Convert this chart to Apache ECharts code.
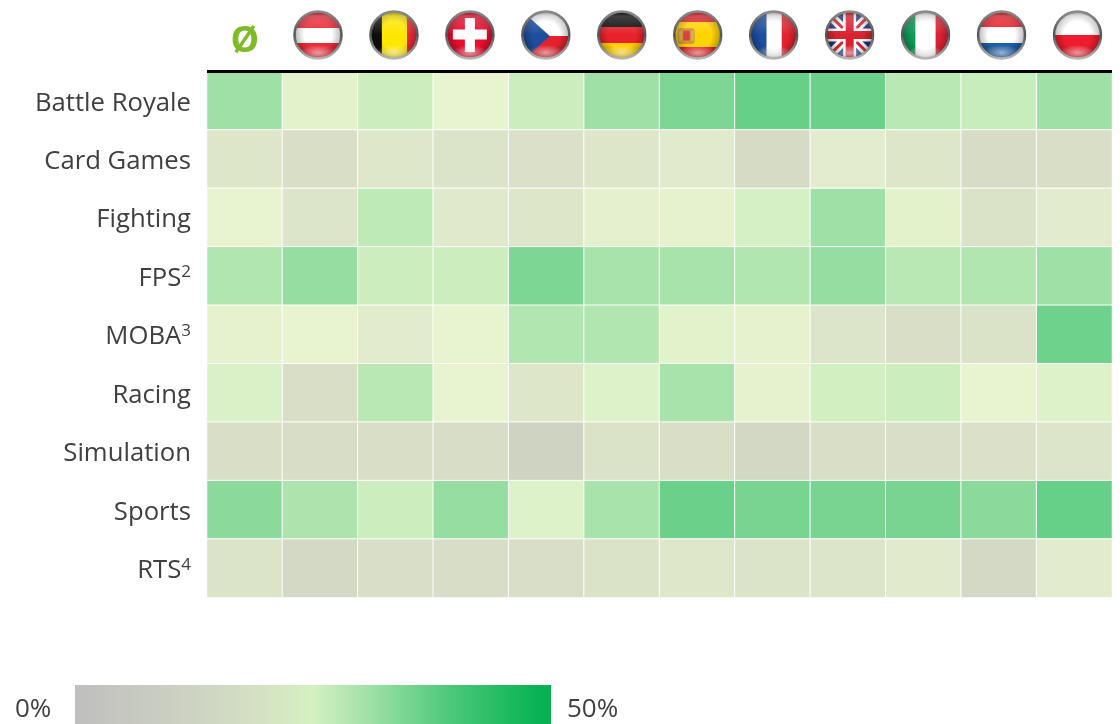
<!DOCTYPE html>
<html>
<head>
<meta charset="utf-8">
<style>html,body{margin:0;padding:0;background:#fff}#c{width:1120px;height:724px}</style>
<script src="https://cdn.jsdelivr.net/npm/echarts@6/dist/echarts.min.js"></script>
</head>
<body>
<div id="c"></div>
<script>
const columns = ['Ø','Austria','Belgium','Switzerland','Czechia','Germany','Spain','France','UK','Italy','Netherlands','Poland'];
const genres = ['Battle Royale','Card Games','Fighting','FPS','MOBA','Racing','Simulation','Sports','RTS'];
const superscripts = {FPS:'2', MOBA:'3', RTS:'4'};
const legendLabels = ['0%','50%'];

const battleRoyale = [30,21,25,20,25,30,33.5,36,35.5,27,25.5,30];
const cardGames    = [15,12,15.5,13.5,12.5,15,16.5,10,17.5,15,10.5,12];
const fighting     = [20,14,26.5,16,15,18.5,19,23.5,30,21,13,17];
const fps          = [28,31,25,25,33.5,29,29,28,31,27,28,30];
const moba         = [19,20,17,20,28,28,21,19,14,12,13,35];
const racing       = [22.5,12,27,20,15,22,29,19,24,25,20,22];
const simulation   = [12,11,12,11,6.5,13,12,8.5,12,11.5,12.5,14];
const sports       = [32,28.5,25,31,22,29,35.5,34,34,34,32,36];
const rts          = [13.5,9,11.5,11,11.5,13,15.5,13.5,14,16.5,9,17];
const rows = [battleRoyale,cardGames,fighting,fps,moba,racing,simulation,sports,rts];

const cellColors = ['#BFBFBF','#CBD0C1','#D5DBC5','#DEE6CA','#E8F4CF','#CCEEBF','#9FE0A6','#6ED28C','#4CC877','#26BC63','#00B050'];
const legendColors = ['#BFBFBF','#C5C7C0','#CBCFC1','#D0D8C3','#D5E3C2','#D5F0C1','#A8E3AC','#76D591','#47C777','#22BB62','#00B050'];

const heat = [];
rows.forEach((r,y)=>r.forEach((v,x)=>heat.push([x,y,v])));

function flagBody(name){
  const s = {
    Austria:'<rect width="100" height="36" fill="#ED2939"/><rect y="36" width="100" height="30" fill="#fff"/><rect y="66" width="100" height="34" fill="#ED2939"/>',
    Belgium:'<rect width="26" height="100" fill="#111"/><rect x="26" width="50" height="100" fill="#FFE600"/><rect x="76" width="24" height="100" fill="#EE2B36"/>',
    Switzerland:'<rect width="100" height="100" fill="#E8112D"/><rect x="40" y="16" width="20" height="68" fill="#fff"/><rect x="16" y="39" width="68" height="20" fill="#fff"/>',
    Czechia:'<rect width="100" height="52" fill="#fff"/><rect y="52" width="100" height="48" fill="#E3202F"/><path d="M0 0 L58 52 L0 104Z" fill="#1F4E9E"/>',
    Germany:'<rect width="100" height="34" fill="#111"/><rect y="34" width="100" height="32" fill="#E8202A"/><rect y="66" width="100" height="34" fill="#FFCE00"/>',
    Spain:'<rect width="100" height="100" fill="#E3202A"/><rect y="24" width="100" height="50" fill="#FFD400"/><rect x="10" y="36" width="34" height="32" rx="7" fill="#D9952F"/><rect x="21" y="41" width="13" height="20" fill="#D8404A"/><rect x="12" y="42" width="6" height="20" fill="#C9B45A"/><rect x="37" y="42" width="6" height="20" fill="#C9B45A"/>',
    France:'<rect width="36" height="100" fill="#1F4EA0"/><rect x="36" width="30" height="100" fill="#fff"/><rect x="66" width="34" height="100" fill="#E3202F"/>',
    UK:'<rect width="100" height="100" fill="#24337E"/><path d="M0 0L100 100M100 0L0 100" stroke="#fff" stroke-width="18"/><path d="M0 0L100 100M100 0L0 100" stroke="#D8202F" stroke-width="6"/><path d="M50 0V100M0 50H100" stroke="#fff" stroke-width="26"/><path d="M50 0V100M0 50H100" stroke="#D8202F" stroke-width="16"/>',
    Italy:'<rect width="30" height="100" fill="#0A9A55"/><rect x="30" width="40" height="100" fill="#fff"/><rect x="70" width="30" height="100" fill="#DC2433"/>',
    Netherlands:'<rect width="100" height="34" fill="#E8212F"/><rect y="34" width="100" height="32" fill="#fff"/><rect y="66" width="100" height="34" fill="#1D5FA6"/>',
    Poland:'<rect width="100" height="50" fill="#fff"/><rect y="50" width="100" height="50" fill="#EE1C2E"/>'
  };
  return s[name];
}
function flagUri(name){
  const svg = '<svg xmlns="http://www.w3.org/2000/svg" width="100" height="100" viewBox="0 0 100 100">'+
  '<defs><clipPath id="c"><circle cx="50" cy="50" r="46"/></clipPath>'+
  '<filter id="b" x="-5%" y="-5%" width="110%" height="110%"><feGaussianBlur stdDeviation="0.9"/></filter>'+
  '<radialGradient id="s" cx="50%" cy="50%" r="50%"><stop offset="55%" stop-color="#000" stop-opacity="0"/><stop offset="85%" stop-color="#000" stop-opacity=".22"/><stop offset="100%" stop-color="#000" stop-opacity=".6"/></radialGradient>'+
  '<radialGradient id="t" cx="50%" cy="50%" r="50%"><stop offset="0" stop-color="#fff" stop-opacity=".55"/><stop offset="100%" stop-color="#fff" stop-opacity="0"/></radialGradient>'+
  '<linearGradient id="g" x1="0" y1="0" x2="0" y2="1"><stop offset="0" stop-color="#000" stop-opacity=".12"/><stop offset=".12" stop-color="#fff" stop-opacity=".22"/><stop offset=".32" stop-color="#fff" stop-opacity=".12"/><stop offset=".5" stop-color="#fff" stop-opacity="0"/></linearGradient>'+
  '<linearGradient id="r" x1="0" y1="0" x2="0" y2="1"><stop offset="0" stop-color="#8a8a8a"/><stop offset=".5" stop-color="#555"/><stop offset="1" stop-color="#b5b5b5"/></linearGradient></defs>'+
  '<g clip-path="url(#c)"><g filter="url(#b)">'+flagBody(name)+'</g><rect width="100" height="100" fill="url(#s)"/><rect width="100" height="100" fill="url(#g)"/><ellipse cx="50" cy="86" rx="38" ry="16" fill="url(#t)"/></g>'+
  '<circle cx="50" cy="50" r="47" fill="none" stroke="url(#r)" stroke-width="5"/></svg>';
  return 'data:image/svg+xml;charset=utf-8,'+encodeURIComponent(svg);
}

const FONT = '"Open Sans"';
const flagStart = 318, flagStep = 75.95, flagSize = 50, flagMid = 35;
const flags = columns.slice(1).map((name,i)=>({
  type:'image',
  style:{image:flagUri(name), x:flagStart+flagStep*i-flagSize/2, y:flagMid-flagSize/2, width:flagSize, height:flagSize},
  silent:true
}));
const legendBar = {
  type:'rect',silent:true,
  shape:{x:75,y:685,width:476,height:39},
  style:{fill:new echarts.graphic.LinearGradient(0,0,1,0,
    legendColors.map((color,i)=>({offset:i/(legendColors.length-1),color})))}
};
const legendText = (text,x,align)=>({
  type:'text',silent:true,
  style:{text,x,y:710,align,verticalAlign:'middle',fontFamily:FONT,fontSize:26,fill:'#404040'}
});

const chart = echarts.init(document.getElementById('c'),null,{renderer:'canvas'});
chart.setOption({
  animation:false,
  backgroundColor:'#fff',
  grid:{left:207,top:71.5,width:905,height:526,containLabel:false},
  xAxis:{
    type:'category',position:'top',data:columns,z:10,
    axisLine:{show:true,lineStyle:{color:'#000',width:3,cap:'butt'}},
    axisTick:{show:false},splitLine:{show:false},
    axisLabel:{interval:0,margin:12,
      formatter:v=>v==='Ø'?v:'',
      fontFamily:FONT,fontWeight:'bold',fontSize:36,color:'#7FBA27'}
  },
  yAxis:{
    type:'category',inverse:true,data:genres,
    axisLine:{show:false},axisTick:{show:false},splitLine:{show:false},
    axisLabel:{interval:0,margin:16,padding:[5,0,0,0],
      formatter:v=>superscripts[v]?'{m|'+v+'}{s|'+superscripts[v]+'}':'{m|'+v+'}',
      rich:{
        m:{fontFamily:FONT,fontSize:25.7,color:'#404040'},
        s:{fontFamily:FONT,fontSize:17,color:'#404040',verticalAlign:'top',padding:[0,0,12,0]}
      }
    }
  },
  visualMap:[
    {type:'continuous',show:false,min:0,max:50,seriesIndex:0,inRange:{color:cellColors}}
  ],
  series:[
    {type:'heatmap',data:heat,itemStyle:{borderColor:'#fff',borderWidth:1},emphasis:{disabled:true},silent:true}
  ],
  graphic:flags.concat([legendBar,legendText(legendLabels[0],15,'left'),legendText(legendLabels[1],567,'left')])
});
</script>
</body>
</html>
